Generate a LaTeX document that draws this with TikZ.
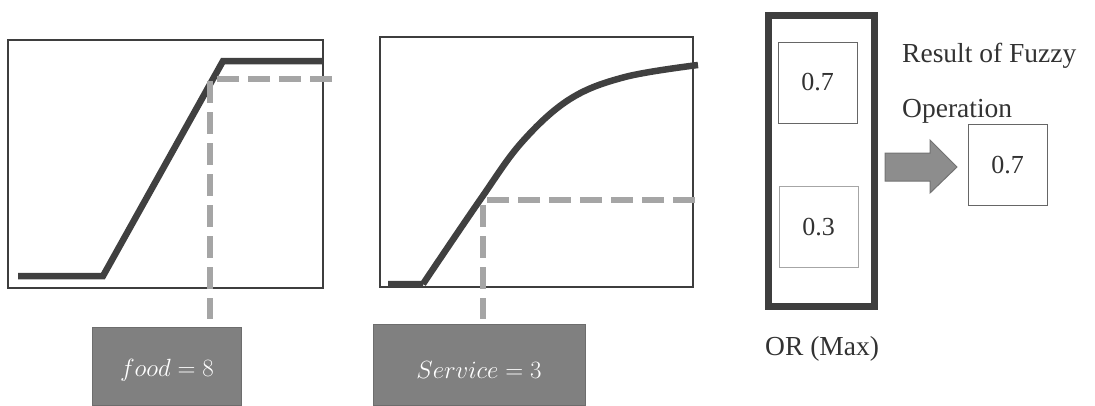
\documentclass[tikz,border=0pt]{standalone}
\usepackage{fontspec}
\setmainfont{Liberation Serif}
\definecolor{frame}{RGB}{62,62,62}
\definecolor{curvec}{RGB}{64,64,64}
\definecolor{dashc}{RGB}{165,165,165}
\definecolor{boxfill}{RGB}{128,128,128}
\definecolor{txt}{RGB}{50,50,50}
\begin{document}
\begin{tikzpicture}[x=1pt,y=-1pt,
  panel/.style={draw=frame,line width=2.2pt},
  curveline/.style={draw=curvec,line width=6.5pt},
  guide/.style={draw=dashc,line width=6pt,dash pattern=on 22pt off 9pt},
  inputbox/.style={fill=boxfill,draw=boxfill!85!black,line width=1pt},
  valbox/.style={draw=black!60,line width=1pt,minimum width=79pt,minimum height=81pt,inner sep=0pt,
    text=txt,font=\fontsize{26}{30}\selectfont},
  lbl/.style={text=txt,font=\fontsize{27.5}{30}\selectfont,inner sep=0pt}]
\useasboundingbox (0,0) rectangle (1095,405);
% panel 1
\draw[panel] (8,40) rectangle (323,288);
\draw[curveline,line join=miter] (18,276) -- (103,276) -- (223,61) -- (323,61);
\coordinate (p1) at (210,79);
\coordinate (p1r) at (332,79);
% panel 2
\draw[panel] (380,37) rectangle (693,287);
\draw[curveline] (388,284) -- (423,284) plot[smooth,tension=0.6] coordinates {(423,284) (480,200) (522,142) (570,99) (625,77) (698,65)};
\coordinate (p2) at (483,200);
\coordinate (p2r) at (695,200);
% input boxes
\path[inputbox] (92,327) rectangle (241,405);
\node[text=white,font=\fontsize{26.5}{30}\selectfont,inner sep=0pt] (food) at (167,370) {$food=8$};
\path[inputbox] (373,324) rectangle (585,405);
\node[text=white,font=\fontsize{27.5}{30}\selectfont,inner sep=0pt] (serv) at (479,370) {$Service=3$};
\coordinate (b1) at (210,319);
\coordinate (b2) at (483,319);
% guides
\draw[guide] (p1r) -- (p1) -- (b1);
\draw[guide] (p2r) -- (p2) -- (b2);
% OR box
\draw[draw=frame,line width=7pt] (768.5,15.5) rectangle (874.5,306.5);
\node[valbox] (a) at (817.5,82.5) {0.7};
\node[valbox,draw=black!35] (b) at (818.5,227) {0.3};
\node[lbl,anchor=base west] (or) at (765,355) {OR (Max)};
% arrow
\coordinate (arr) at (885,167);
\filldraw[fill=boxfill!90!white,draw=black!55,line width=1pt]
  (arr) ++(0,-14) -- ++(45,0) -- ++(0,-13) -- ++(27,27) -- ++(-27,26) -- ++(0,-12) -- ++(-45,0) -- cycle;
\node[valbox] (res) at (1007.5,165) {0.7};
\node[lbl,anchor=base west] (r1) at (902,62) {Result of Fuzzy};
\node[lbl,anchor=base west] (r2) at (902,117) {Operation};
\end{tikzpicture}
\end{document}
